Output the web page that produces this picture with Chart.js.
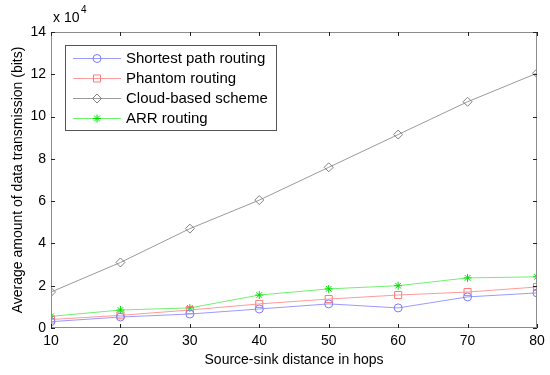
<!DOCTYPE html>
<html>
<head>
<meta charset="utf-8">
<script src="https://cdn.jsdelivr.net/npm/chart.js@4"></script>
<style>
  html, body { margin: 0; padding: 0; background: #fff; }
  #wrap { width: 550px; height: 375px; }
</style>
</head>
<body>
<div id="wrap"><canvas id="c"></canvas></div>
<script>
// hops on the x axis, data in bits
const hops = [10, 20, 30, 40, 50, 60, 70, 80];
const shortestPath = [3000, 5200, 6600, 9000, 11400, 9500, 14700, 16600];
const phantom = [4000, 6000, 8500, 11400, 13700, 15600, 17000, 19400];
const cloudBased = [17000, 31000, 47000, 60500, 76000, 91500, 107000, 120500];
const arr = [5500, 8500, 9500, 15600, 18500, 20000, 23700, 24200];
const seriesNames = ['Shortest path routing', 'Phantom routing', 'Cloud-based scheme', 'ARR routing'];
const yTicks = [0, 2, 4, 6, 8, 10, 12, 14];

const FONT = "'Liberation Sans', Arial, sans-serif";

function pts(vals) {
    return hops.map((h, i) => ({ x: h, y: vals[i] }));
}

// MATLAB style box with inward ticks + exponent label
const matlabBox = {
    id: 'matlabBox',
    afterDraw(chart) {
        const { ctx, chartArea: a, scales } = chart;
        ctx.save();
        ctx.strokeStyle = '#8c8c8c';
        ctx.lineWidth = 1;
        ctx.strokeRect(a.left + 0.5, a.top + 0.5, a.right - a.left - 1, a.bottom - a.top - 1);
        ctx.strokeStyle = '#222';
        const len = 4;
        scales.x.ticks.forEach(t => {
            const px = Math.round(scales.x.getPixelForValue(t.value)) + 0.5;
            ctx.beginPath();
            ctx.moveTo(px, a.bottom); ctx.lineTo(px, a.bottom - len);
            ctx.moveTo(px, a.top); ctx.lineTo(px, a.top + len);
            ctx.stroke();
        });
        scales.y.ticks.forEach(t => {
            const py = Math.round(scales.y.getPixelForValue(t.value)) + 0.5;
            ctx.beginPath();
            ctx.moveTo(a.left, py); ctx.lineTo(a.left + len, py);
            ctx.moveTo(a.right, py); ctx.lineTo(a.right - len, py);
            ctx.stroke();
        });
        // exponent
        ctx.fillStyle = '#000';
        ctx.font = '14px ' + FONT;
        ctx.textBaseline = 'alphabetic';
        ctx.fillText('x 10', a.left + 2, a.top - 10);
        ctx.font = '10px ' + FONT;
        ctx.fillText('4', a.left + 30, a.top - 19);
        ctx.restore();
    }
};

// legend drawn inside the axes, top left
const insideLegend = {
    id: 'insideLegend',
    afterDraw(chart) {
        const { ctx, chartArea: a } = chart;
        const x0 = a.left + 14, y0 = a.top + 13, w = 211, h = 85;
        ctx.save();
        ctx.fillStyle = '#fff';
        ctx.fillRect(x0, y0, w, h);
        ctx.strokeStyle = '#555';
        ctx.lineWidth = 1;
        ctx.strokeRect(x0 + 0.5, y0 + 0.5, w, h);
        chart.data.datasets.forEach((ds, i) => {
            const cy = y0 + 13 + i * 20;
            ctx.strokeStyle = ds.borderColor;
            ctx.lineWidth = 1;
            ctx.beginPath();
            ctx.moveTo(x0 + 8, cy + 0.5); ctx.lineTo(x0 + 56, cy + 0.5);
            ctx.stroke();
            ctx.strokeStyle = ds.pointBorderColor;
            ctx.fillStyle = 'rgba(0,0,0,0)';
            Chart.helpers.drawPoint(ctx, {
                pointStyle: ds.pointStyle,
                radius: ds.pointRadius,
                borderWidth: 1
            }, x0 + 32, cy + 0.5);
            ctx.fillStyle = '#000';
            ctx.font = '15px ' + FONT;
            ctx.textBaseline = 'middle';
            ctx.fillText(ds.label, x0 + 61, cy + 1);
        });
        ctx.restore();
    }
};

function makeSet(label, vals, line, marker, style, r) {
    return {
        label: label,
        data: pts(vals),
        borderColor: line,
        borderWidth: 1,
        pointStyle: style,
        pointRadius: r,
        pointHoverRadius: r,
        pointBorderColor: marker,
        pointBackgroundColor: 'rgba(0,0,0,0)',
        pointBorderWidth: 1,
        fill: false,
        tension: 0
    };
}

new Chart(document.getElementById('c'), {
    type: 'line',
    data: {
        datasets: [
            makeSet(seriesNames[0], shortestPath, '#9a9aff', '#7a7aff', 'circle', 4),
            makeSet(seriesNames[1], phantom, '#ff9a9a', '#ff7a7a', 'rect', 5),
            makeSet(seriesNames[2], cloudBased, '#9a9a9a', '#808080', 'rectRot', 4.5),
            makeSet(seriesNames[3], arr, '#70f070', '#00dd00', 'star', 4)
        ]
    },
    options: {
        responsive: true,
        maintainAspectRatio: false,
        animation: false,
        events: [],
        layout: { padding: { top: 32, right: 13, left: 0, bottom: 0 } },
        plugins: { legend: { display: false }, tooltip: { enabled: false } },
        scales: {
            x: {
                type: 'linear',
                min: 10, max: 80,
                afterFit: s => { s.height = 47; },
                grid: { display: false, drawTicks: false },
                border: { display: false },
                ticks: { stepSize: 10, color: '#000', font: { family: FONT, size: 14 }, padding: 5 },
                title: { display: true, text: 'Source-sink distance in hops', color: '#000', font: { family: FONT, size: 14 }, padding: { top: 2, bottom: 6 } }
            },
            y: {
                min: 0, max: 140000,
                afterFit: s => { s.width = 51; },
                afterBuildTicks: s => { s.ticks = yTicks.map(v => ({ value: v * 10000 })); },
                grid: { display: false, drawTicks: false },
                border: { display: false },
                ticks: { color: '#000', font: { family: FONT, size: 14 }, padding: 5, callback: v => String(v / 10000) },
                title: { display: true, text: 'Average amount of data transmission (bits)', color: '#000', font: { family: FONT, size: 14 }, padding: { top: 10, bottom: 2 } }
            }
        }
    },
    plugins: [matlabBox, insideLegend]
});
</script>
</body>
</html>
